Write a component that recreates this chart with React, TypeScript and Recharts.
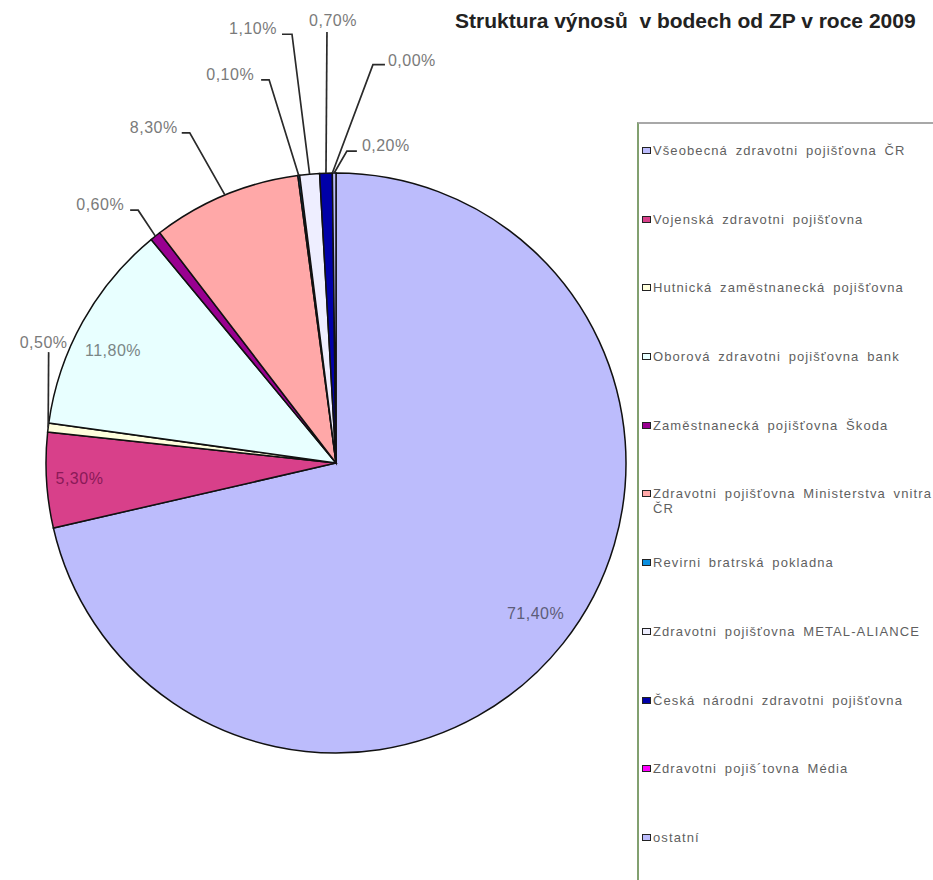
import { PieChart, Pie, Cell, Legend } from 'recharts';

const names = [
  'Všeobecná zdravotni pojišťovna ČR',
  'Vojenská zdravotni pojišťovna',
  'Hutnická zaměstnanecká pojišťovna',
  'Oborová zdravotni pojišťovna bank',
  'Zaměstnanecká pojišťovna Škoda',
  'Zdravotni pojišťovna Ministerstva vnitra ČR',
  'Revirni bratrská pokladna',
  'Zdravotni pojišťovna METAL-ALIANCE',
  'Česká národni zdravotni pojišťovna',
  'Zdravotni pojiš´tovna Média',
  'ostatní',
];
const shares = [71.4, 5.3, 0.5, 11.8, 0.6, 8.3, 0.1, 1.1, 0.7, 0.0, 0.2];
const colors = [
  '#BCBCFC', '#D8408A', '#FFFFDD', '#E8FFFF', '#990090', '#FFA8A8',
  '#0A8FE0', '#EEEEFF', '#0000A8', '#FF00FF', '#BCBCFC',
];

const pieData = names.map((name, i) => ({ name, share: shares[i] }));

const FONT = '"Liberation Sans", Arial, sans-serif';
const R = 290;

// where each data label sits (angles in degrees, radii as a share of the pie radius)
const labelLayout: any[] = [
  { inside: true, dAngle: 1.5, r: 250 / R, color: '#5c5c78' },
  { inside: true, dAngle: 0, r: 257 / R, color: '#8a1a58' },
  { angle: 158.9, r: 308 / R, tail: 0, anchor: 'middle', dx: -5, dy: -4 },
  { inside: true, dAngle: 2.3, r: 250 / R, color: '#7a8686' },
  { angle: 128.05, r: 321 / R, tail: -8, anchor: 'end', dx: -6, dy: 0 },
  { angle: 113.9, r: 361 / R, tail: -8, anchor: 'end', dx: -4, dy: 0 },
  { angle: 99.9, r: 389 / R, tail: -8, anchor: 'end', dx: -7, dy: 0 },
  { angle: 95.86, r: 431 / R, tail: -10, anchor: 'end', dx: -5, dy: 0 },
  { angle: 91.2, r: 431 / R, tail: 0, anchor: 'middle', dx: 6, dy: -6 },
  { angle: 84.7, r: 400 / R, tail: 12, anchor: 'start', dx: 3, dy: 1 },
  { angle: 88, r: 312 / R, tail: 10, anchor: 'start', dx: 5, dy: 0 },
];

const RAD = Math.PI / 180;
const polar = (cx: number, cy: number, r: number, a: number) => ({
  x: cx + r * Math.cos(-a * RAD),
  y: cy + r * Math.sin(-a * RAD),
});

const fmt = (v: number) => `${v.toFixed(2).replace('.', ',')}%`;

const renderLabel = (props: any) => {
  const { cx, cy, midAngle, outerRadius, index, value } = props;
  const lay = labelLayout[index];
  if (!lay) return null;
  const textStyle = { fontFamily: FONT, fontSize: 16, letterSpacing: 0.5 };
  if (lay.inside) {
    const p = polar(cx, cy, outerRadius * lay.r, midAngle + lay.dAngle);
    return (
      <text x={p.x} y={p.y} fill={lay.color} textAnchor="middle" dominantBaseline="central" style={textStyle}>
        {fmt(value)}
      </text>
    );
  }
  const s = polar(cx, cy, outerRadius, midAngle);
  const e = polar(cx, cy, outerRadius * lay.r, lay.angle);
  const tx = e.x + lay.tail;
  return (
    <g>
      <polyline
        points={`${s.x},${s.y} ${e.x},${e.y} ${tx},${e.y}`}
        fill="none"
        stroke="#2a2a2a"
        strokeWidth={1.7}
      />
      <text x={tx + lay.dx} y={e.y + lay.dy} fill="#7a7a7a" textAnchor={lay.anchor} style={textStyle}>
        {fmt(value)}
      </text>
    </g>
  );
};

const LegendBox = () => (
  <div
    style={{
      height: 770,
      paddingTop: 20,
      boxSizing: 'border-box',
      fontFamily: FONT,
      fontSize: 13,
      letterSpacing: 1.1,
      wordSpacing: 3,
      color: '#5f5f5f',
    }}
  >
    {names.map((name, i) => (
      <div key={name} style={{ height: 68.7, display: 'flex', alignItems: 'flex-start', paddingLeft: 4 }}>
        <span
          style={{
            display: 'inline-block',
            width: 7,
            height: 5,
            marginTop: 4,
            marginRight: 2,
            background: colors[i],
            border: '1.5px solid #222',
            flexShrink: 0,
          }}
        />
        <span style={{ width: 282, lineHeight: '15px', whiteSpace: 'normal' }}>{name}</span>
      </div>
    ))}
  </div>
);

export default function App() {
  return (
    <div style={{ position: 'absolute', left: 0, top: 0, width: 933, height: 880, overflow: 'hidden', background: '#fff' }}>
      <div
        style={{
          position: 'absolute',
          left: 455,
          top: 9,
          fontFamily: FONT,
          fontWeight: 'bold',
          fontSize: 21,
          color: '#222',
          whiteSpace: 'pre',
        }}
      >
        Struktura výnosů  v bodech od ZP v roce 2009
      </div>
      <PieChart width={933} height={880} margin={{ top: 0, right: 0, bottom: 0, left: 0 }}>
        <Pie
          data={pieData}
          dataKey="share"
          nameKey="name"
          cx={336}
          cy={463}
          outerRadius={R}
          startAngle={90}
          endAngle={-270}
          stroke="#111"
          strokeWidth={1.5}
          label={renderLabel}
          labelLine={false}
          isAnimationActive={false}
        >
          {pieData.map((d, i) => (
            <Cell key={d.name} fill={colors[i]} />
          ))}
        </Pie>
        <Legend
          layout="vertical"
          align="right"
          verticalAlign="top"
          content={<LegendBox />}
          wrapperStyle={{ left: 638, top: 123, right: 'auto', bottom: 'auto', width: 300 }}
        />
      </PieChart>
      {/* legend frame */}
      <div
        style={{
          position: 'absolute',
          left: 637,
          top: 122,
          width: 320,
          height: 800,
          borderTop: '2px solid #a8a8a8',
          borderLeft: '2px solid #82a070',
          pointerEvents: 'none',
        }}
      />
    </div>
  );
}
